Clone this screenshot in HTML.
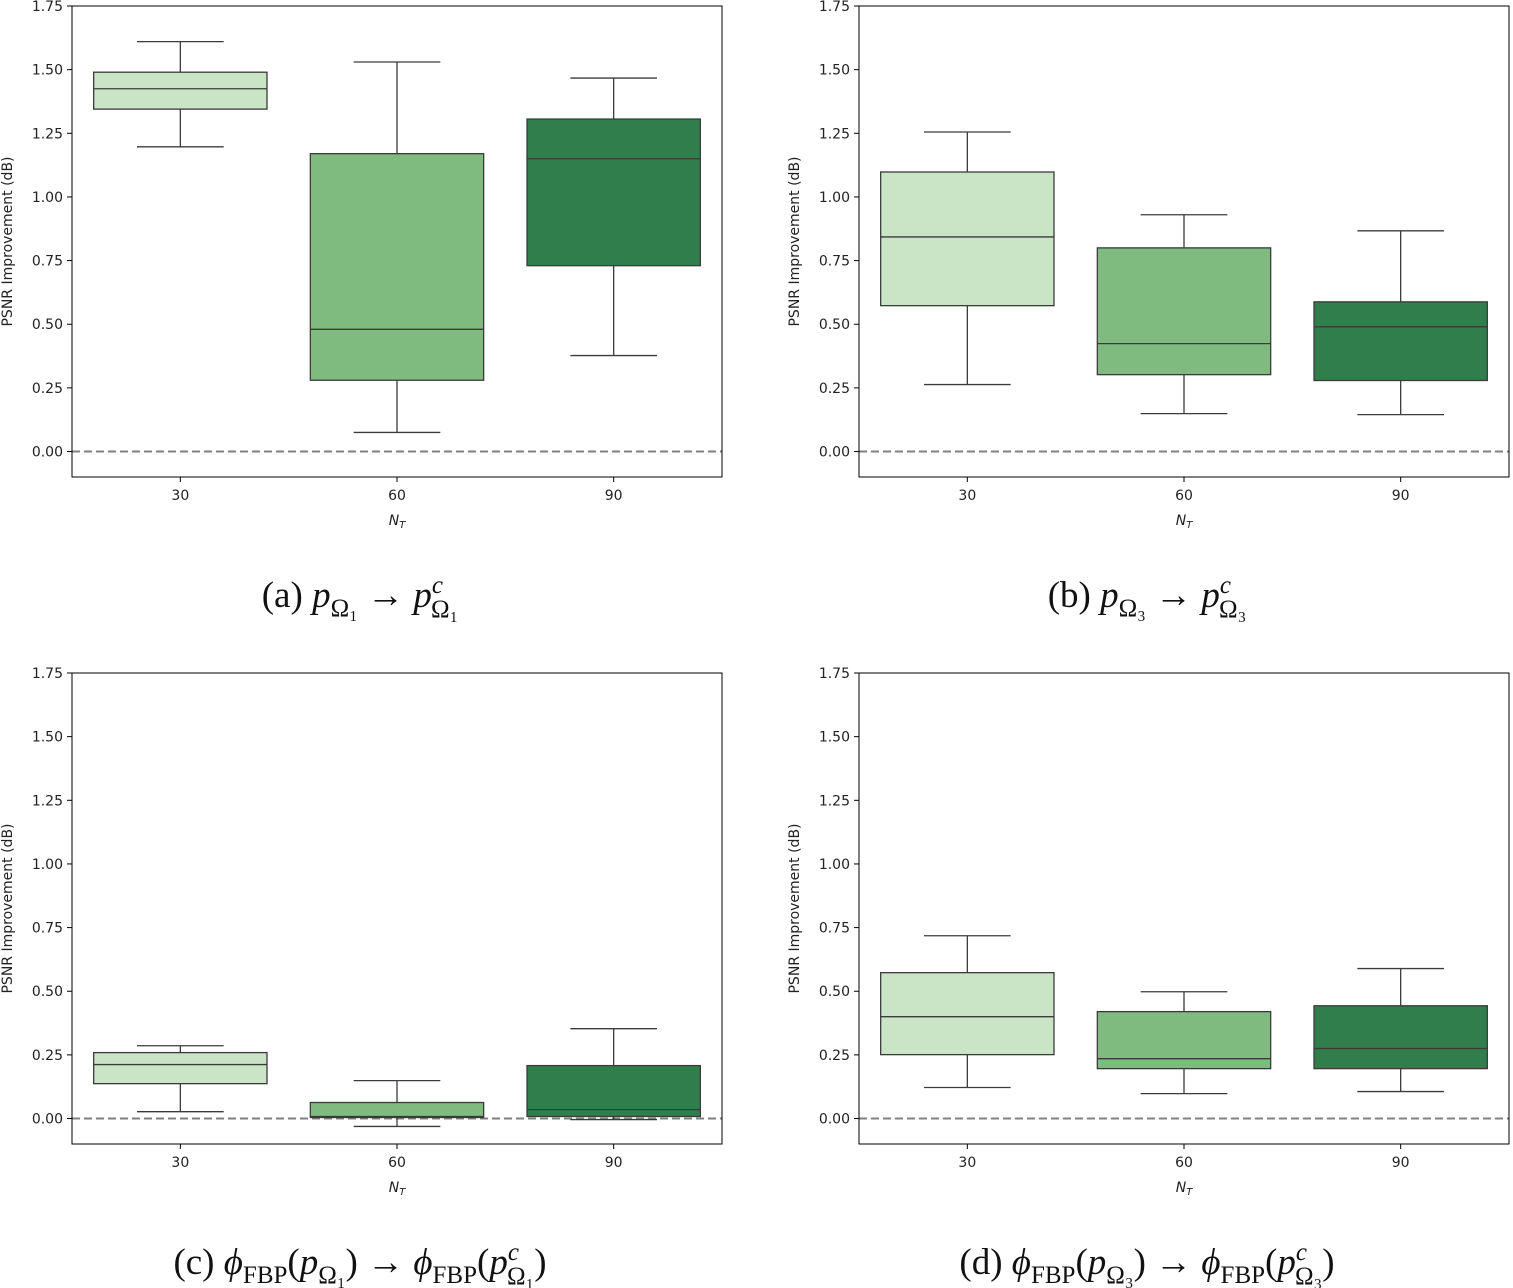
<!DOCTYPE html>
<html><head><meta charset="utf-8"><style>
body{margin:0;background:#fff;}
svg{display:block;}
.tick{font-family:"DejaVu Sans","Liberation Sans",sans-serif;font-size:14px;fill:#222;}
.cap{font-family:"Liberation Serif",serif;font-size:37px;fill:#111;}
</style></head><body>
<svg id="fig" width="1513" height="1288" xmlns="http://www.w3.org/2000/svg"></svg>
<script>
const categories=["30","60","90"];
const yTicks=[0,0.25,0.5,0.75,1.0,1.25,1.5,1.75];
// [low whisker, Q1, median, Q3, high whisker] per category
const statsA=[[1.197,1.345,1.425,1.49,1.61],[0.075,0.28,0.48,1.17,1.53],[0.377,0.73,1.15,1.306,1.467]];
const statsB=[[0.263,0.573,0.843,1.098,1.255],[0.149,0.302,0.424,0.80,0.93],[0.145,0.279,0.49,0.588,0.867]];
const statsC=[[0.027,0.137,0.212,0.259,0.286],[-0.031,0.004,0.008,0.063,0.149],[-0.004,0.008,0.035,0.208,0.353]];
const statsD=[[0.122,0.251,0.40,0.573,0.718],[0.098,0.196,0.235,0.42,0.498],[0.106,0.196,0.275,0.443,0.589]];
const colors=["#cae5c6","#7fba7f","#2f7e4b"];
const NS="http://www.w3.org/2000/svg";
const svg=document.getElementById('fig');
function mk(t,a,p){const e=document.createElementNS(NS,t);for(const k in a)e.setAttribute(k,a[k]);(p||svg).appendChild(e);return e;}
function caption(g,parts,cx,y){
  const c=mk('text',{x:cx,y:y,'text-anchor':'middle',class:'cap'},g);
  
  
  let cur=0;
  parts.forEach(p=>{
    const a={};let off=0;
    if(p[1]==='sub'){off=9;a['font-size']=25;}
    else if(p[1]==='sup'){off=-14;a['font-size']=25;}
    else if(p[1]==='subu'){off=10;a['font-size']=25;}
    a.dy=off-cur;cur=off;
    if(p[2])a['font-style']='italic';
    if(p[3])a.dx=p[3];
    const t=mk('tspan',a,c);t.textContent=p[0];
  });
}
function panel(stats,x0,y0,name){
  const W=650,H=471,ymin=-0.1,ymax=1.75;
  const g=mk('g',{});
  
  
  const ys=v=>y0+(ymax-v)/(ymax-ymin)*H;
  const step=W/3;
  const xs=i=>x0+step*(i+0.5);
  mk('line',{x1:x0,x2:x0+W,y1:ys(0),y2:ys(0),stroke:'#808080','stroke-width':2,'stroke-dasharray':'8,4'},g);
  stats.forEach((s,i)=>{
    const b=mk('g',{},g);
    
    
    const cx=xs(i),bw=step*0.8,cw=bw*0.5;
    mk('line',{x1:cx,x2:cx,y1:ys(s[0]),y2:ys(s[1]),stroke:'#3b3b3b','stroke-width':1.3},b);
    mk('line',{x1:cx,x2:cx,y1:ys(s[3]),y2:ys(s[4]),stroke:'#3b3b3b','stroke-width':1.3},b);
    mk('line',{x1:cx-cw/2,x2:cx+cw/2,y1:ys(s[0]),y2:ys(s[0]),stroke:'#3b3b3b','stroke-width':1.3},b);
    mk('line',{x1:cx-cw/2,x2:cx+cw/2,y1:ys(s[4]),y2:ys(s[4]),stroke:'#3b3b3b','stroke-width':1.3},b);
    mk('rect',{x:cx-bw/2,y:ys(s[3]),width:bw,height:ys(s[1])-ys(s[3]),fill:colors[i],stroke:'#3b3b3b','stroke-width':1.3},b);
    mk('line',{x1:cx-bw/2,x2:cx+bw/2,y1:ys(s[2]),y2:ys(s[2]),stroke:'#3b3b3b','stroke-width':1.3},b);
  });
  mk('rect',{x:x0,y:y0,width:W,height:H,fill:'none',stroke:'#000','stroke-width':1},g);
  yTicks.forEach(v=>{
    mk('line',{x1:x0-5,x2:x0,y1:ys(v),y2:ys(v),stroke:'#000'},g);
    const t=mk('text',{x:x0-9,y:ys(v)+5,'text-anchor':'end',class:'tick'},g);t.textContent=v.toFixed(2);
    
  });
  categories.forEach((c,i)=>{
    mk('line',{x1:xs(i),x2:xs(i),y1:y0+H,y2:y0+H+5,stroke:'#000'},g);
    const t=mk('text',{x:xs(i),y:y0+H+23,'text-anchor':'middle',class:'tick'},g);t.textContent=c;
    
  });
  const yl=mk('text',{x:0,y:0,'text-anchor':'middle',class:'tick',transform:`translate(${x0-60},${y0+H/2}) rotate(-90)`},g);
  yl.textContent='PSNR Improvement (dB)';
  
  const xl=mk('text',{x:x0+W/2,y:y0+H+48,'text-anchor':'middle',class:'tick','font-style':'italic'},g);
  xl.innerHTML='N<tspan font-size="10" dy="3">T</tspan>';
  
  return g;
}
const gA=panel(statsA,72,6,'panel-a');
const gB=panel(statsB,859,6,'panel-b');
const gC=panel(statsC,72,673,'panel-c');
const gD=panel(statsD,859,673,'panel-d');
function simpleCap(g,lab,k,cx,y){
  caption(g,[[lab+' ','n'],['p','n',1],['Ω'+k,'sub'],[' → ','n'],['p','n',1],['c','sup',1],['Ω'+k,'subu',0,-12]],cx,y);
}
function fbpCap(g,lab,k,cx,y){
  caption(g,[[lab+' ','n'],['ϕ','n',1],['FBP','sub'],['(','n'],['p','n',1],['Ω'+k,'sub'],[') → ','n'],['ϕ','n',1],['FBP','sub'],['(','n'],['p','n',1],['c','sup',1],['Ω'+k,'subu',0,-12],[')','n']],cx,y);
}
simpleCap(gA,'(a)','₁',360,607);
simpleCap(gB,'(b)','₃',1147,607);
fbpCap(gC,'(c)','₁',360,1274);
fbpCap(gD,'(d)','₃',1147,1274);
</script>
</body></html>
